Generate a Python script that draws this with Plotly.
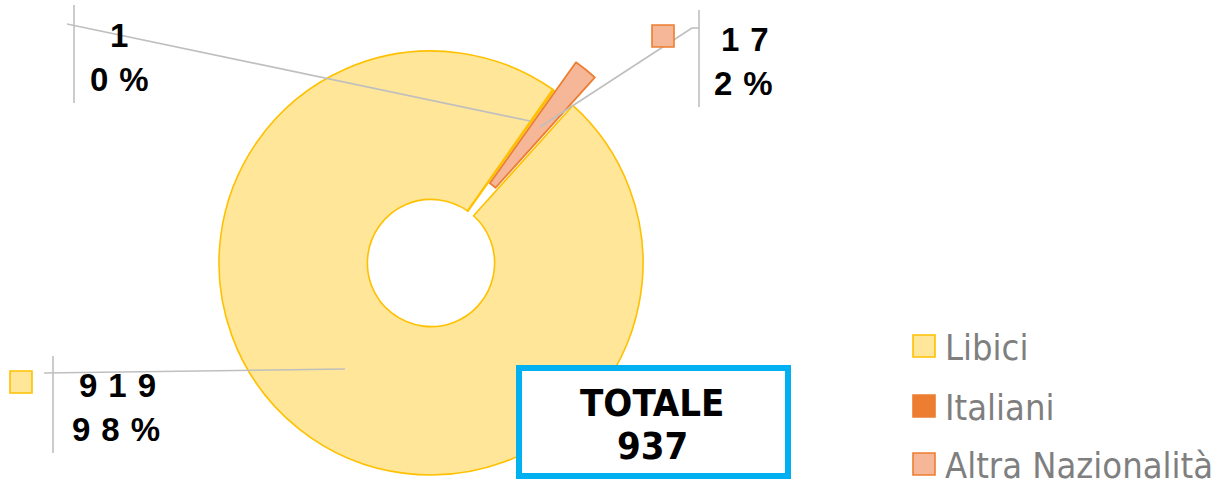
import plotly.graph_objects as go

# ---- data ----
categories = ["Libici", "Italiani", "Altra Nazionalità"]
values = [919, 1, 17]
fill_colors = ["#FFE699", "#ED7D31", "#F5B797"]
line_colors = ["#FFC000", "#ED7D31", "#ED7D31"]

W, H = 1214, 488
total = sum(values)
percents = [round(v * 100 / total) for v in values]


def px(x):
    return x / W


def py(y):
    return 1 - y / H


TRANSP = "rgba(0,0,0,0)"
cx, cy, r = 431, 263, 212
pull_dx, pull_dy = 22, -28

fig = go.Figure()
# main ring (exploded slice left empty)
fig.add_trace(go.Pie(
    labels=categories, values=values, sort=False, direction="clockwise",
    rotation=42, hole=0.3, textinfo="none", hoverinfo="skip",
    marker=dict(colors=[fill_colors[0], fill_colors[0], TRANSP],
                line=dict(color=[line_colors[0], line_colors[0], TRANSP], width=1.6)),
    domain=dict(x=[px(cx - r), px(cx + r)], y=[py(cy + r), py(cy - r)]),
    showlegend=False,
))
# exploded slice
fig.add_trace(go.Pie(
    labels=categories, values=values, sort=False, direction="clockwise",
    rotation=42, hole=0.3, textinfo="none", hoverinfo="skip",
    marker=dict(colors=[TRANSP, TRANSP, fill_colors[2]],
                line=dict(color=[TRANSP, TRANSP, line_colors[2]], width=1.8)),
    domain=dict(x=[px(cx - r + pull_dx), px(cx + r + pull_dx)],
                y=[py(cy + r + pull_dy), py(cy - r + pull_dy)]),
    showlegend=False,
))

shapes = []
annotations = []
GRAY = "#BFBFBF"


def line(x0, y0, x1, y1):
    shapes.append(dict(type="line", xref="paper", yref="paper",
                       x0=px(x0), y0=py(y0), x1=px(x1), y1=py(y1),
                       line=dict(color=GRAY, width=1.6)))


def square(x0, y0, x1, y1, fill, edge, lw=1.6):
    shapes.append(dict(type="rect", xref="paper", yref="paper",
                       x0=px(x0), y0=py(y0), x1=px(x1), y1=py(y1),
                       fillcolor=fill, line=dict(color=edge, width=lw)))


def text(x, y, s, size, color="black", family="Liberation Sans, Arial", anchor="center"):
    annotations.append(dict(xref="paper", yref="paper", x=px(x), y=py(y), text=s,
                            showarrow=False, xanchor=anchor, yanchor="middle",
                            font=dict(size=size, color=color, family=family)))


SP = "\u2004"


def spaced(n):
    return SP.join(str(n))


# leader lines
line(345, 369, 44, 373)
line(53, 356, 53, 453)
line(530, 121, 67, 24)
line(74, 5, 74, 103)
line(540, 127, 692, 28)
line(692, 28, 699, 28)
line(699, 10, 699, 107)

# label keys
square(10, 371, 32, 393, fill_colors[0], line_colors[0])
square(652, 25, 674, 47, fill_colors[2], line_colors[2])

LBL = 33
# Libici label
text(117, 385, "<b>" + spaced(values[0]) + "</b>", LBL)
text(116, 429, "<b>" + spaced(percents[0]) + SP + "%</b>", LBL)
# Italiani label
text(119, 36, "<b>" + spaced(values[1]) + "</b>", LBL)
text(119, 80, "<b>" + spaced(percents[1]) + SP + "%</b>", LBL)
# Altra label
text(745, 39, "<b>" + spaced(values[2]) + "</b>", LBL)
text(743, 83, "<b>" + spaced(percents[2]) + SP + "%</b>", LBL)

# total box
shapes.append(dict(type="rect", xref="paper", yref="paper",
                   x0=px(519), y0=py(368), x1=px(788), y1=py(476),
                   fillcolor="white", line=dict(color="#00B0F0", width=6)))
text(652, 403, "<b>TOTALE</b>", 38, family="DejaVu Sans Condensed, DejaVu Sans")
text(652, 446, "<b>" + str(total) + "</b>", 38, family="DejaVu Sans Condensed, DejaVu Sans")

# legend
leg_y = [346, 406, 464]
for i, cat in enumerate(categories):
    yc = leg_y[i]
    square(913, yc - 11, 935, yc + 11, fill_colors[i], line_colors[i])
    text(943, yc + 1, cat, 36, color="#7F7F7F",
         family="DejaVu Sans Condensed, DejaVu Sans", anchor="left")

fig.update_layout(width=W, height=H, margin=dict(l=0, r=0, t=0, b=0),
                  paper_bgcolor="white", plot_bgcolor="white",
                  shapes=shapes, annotations=annotations, showlegend=False)

fig.write_html("out.html", config={"displayModeBar": False},
               post_script="document.body.style.margin='0';")
